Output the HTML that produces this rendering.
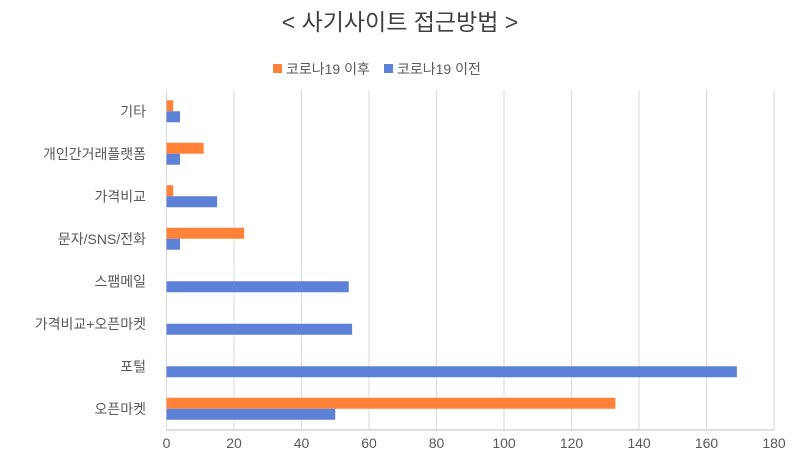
<!DOCTYPE html>
<html><head><meta charset="utf-8"><style>
body{margin:0;background:#fff;}
svg{display:block;font-family:"Liberation Sans","Noto Sans CJK KR",sans-serif;}
</style></head><body>
<svg id="chart" width="800" height="458">
<text x="400" y="30" text-anchor="middle" font-size="23" fill="#404040">&lt; 사기사이트 접근방법 &gt;</text>
<g>
<rect x="273" y="64" width="9" height="9" fill="#FF8238"/>
<text x="286" y="74" font-size="14" fill="#595959">코로나19 이후</text>
<rect x="384" y="64" width="9" height="9" fill="#5E81D8"/>
<text x="397" y="74" font-size="14" fill="#595959">코로나19 이전</text>
</g>
<g id="grid"></g><g id="bars"></g><g id="labels"></g>
</svg>
<script>
const categories=["기타","개인간거래플랫폼","가격비교","문자/SNS/전화","스팸메일","가격비교+오픈마켓","포털","오픈마켓"];
const afterValues=[2,11,2,23,0,0,0,133];
const beforeValues=[4,4,15,4,54,55,169,50];
const ticks=[0,20,40,60,80,100,120,140,160,180];
{
const NS="http://www.w3.org/2000/svg";
const x0=166.5,x1=774,yTop=90,yBottom=430;
const xs=v=>x0+(v-0)/(180-0)*(x1-x0);
const band=(yBottom-yTop)/categories.length;
const ys=i=>yTop+band*i;
function mk(t,a,p){const e=document.createElementNS(NS,t);for(const k in a)e.setAttribute(k,a[k]);p.appendChild(e);return e;}
const g=document.getElementById('grid'),b=document.getElementById('bars'),l=document.getElementById('labels');
ticks.forEach(t=>{
 const ln=mk('line',{x1:xs(t),x2:xs(t),y1:yTop,y2:yBottom,stroke:'#d9d9d9','stroke-width':1},g);
 
 
 const tx=mk('text',{x:xs(t),y:448,'text-anchor':'middle','font-size':14,fill:'#595959'},l);
 tx.textContent=t;
 
 
});
const ax=mk('line',{x1:x0,x2:x1,y1:yBottom,y2:yBottom,stroke:'#bfbfbf','stroke-width':1},g);


categories.forEach((c,i)=>{
 const cy=ys(i)+band/2;
 const tx=mk('text',{x:146,y:cy+5,'text-anchor':'end','font-size':14,fill:'#595959'},l);
 tx.textContent=c;
 
 
 const ra=mk('rect',{x:xs(0),y:cy-11,width:xs(afterValues[i])-xs(0),height:11,fill:'#FF8238'},b);
 
 
 const rb=mk('rect',{x:xs(0),y:cy,width:xs(beforeValues[i])-xs(0),height:11,fill:'#5E81D8'},b);
 
 
});
}
</script>
</body></html>
